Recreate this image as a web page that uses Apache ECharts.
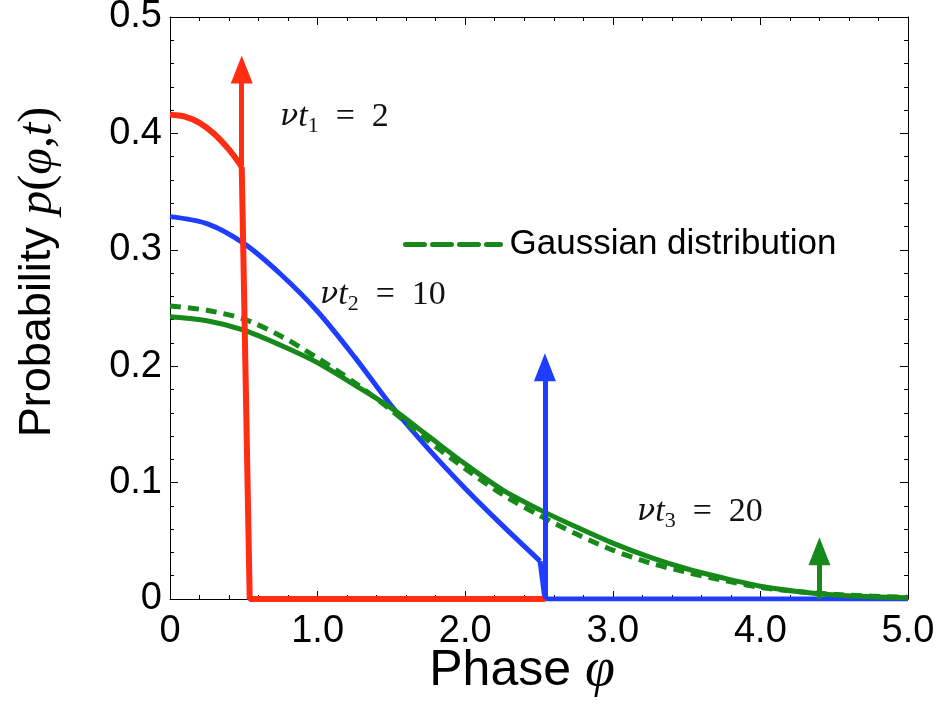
<!DOCTYPE html>
<html>
<head>
<meta charset="utf-8">
<script src="https://cdn.jsdelivr.net/npm/echarts@6/dist/echarts.min.js"></script>
<style>
  html, body { margin: 0; padding: 0; background: #fff; }
  #chart { width: 944px; height: 728px; }
</style>
</head>
<body>
<div id="chart"></div>
<script>
// curve for nu*t1 = 2 (red): smooth part, then the drop to zero
const redPhi = [0, 0.1, 0.2, 0.3, 0.4, 0.486]
const redP = [0.416, 0.4144, 0.409, 0.3995, 0.386, 0.3714]
const redDropPhi = [0.486, 0.54, 2.54]
const redDropP = [0.3714, 0, 0]

// curve for nu*t2 = 10 (blue)
const bluePhi = [0, 0.25, 0.5, 0.75, 1.0, 1.25, 1.5, 1.75, 2.0, 2.25, 2.507]
const blueP = [0.3285, 0.3225, 0.3055, 0.279, 0.247, 0.208, 0.166, 0.129, 0.095, 0.0635, 0.0326]
const blueDropPhi = [2.507, 2.54, 5.0]
const blueDropP = [0.0326, 0, 0]

// nu*t3 = 20 (green) and the gaussian, same phi grid
const phiGrid = [0, 0.25, 0.5, 0.75, 1.0, 1.25, 1.5, 1.75, 2.0, 2.25, 2.5, 2.75, 3.0, 3.25, 3.5, 3.75, 4.0, 4.25, 4.5, 4.75, 5.0]
const greenP = [0.2425, 0.239, 0.231, 0.218, 0.203, 0.184, 0.164, 0.140, 0.116, 0.094, 0.077, 0.062, 0.048, 0.036, 0.026, 0.018, 0.011, 0.0065, 0.0035, 0.002, 0.001]
const gaussP = [0.2517, 0.248, 0.2405, 0.226, 0.207, 0.186, 0.162, 0.136, 0.112, 0.090, 0.072, 0.056, 0.042, 0.031, 0.023, 0.016, 0.010, 0.0065, 0.004, 0.0025, 0.0015]

// delta peaks: phi position, start of shaft, centre of arrow head
const arrowPhi = [0.486, 2.54, 4.40]
const arrowFrom = [0.3714, 0, 0]
const arrowTo = [0.455, 0.199, 0.041]

const xTickLabels = ['0', '1.0', '2.0', '3.0', '4.0', '5.0']
const yTickLabels = ['0', '0.1', '0.2', '0.3', '0.4', '0.5']

const RED = '#ff2d12'
const BLUE = '#1f3dff'
const GREEN = '#17891a'

const sans = 'Liberation Sans, Helvetica, Arial, sans-serif'
const serif = 'Liberation Serif, Times New Roman, serif'

function pairs(xs, ys) {
  return xs.map((x, i) => [x, ys[i]])
}

function curve(name, xs, ys, color, width, z, smooth) {
  return {
    name: name, type: 'line', symbol: 'none', z: z,
    smooth: smooth,
    lineStyle: { color: color, width: width },
    data: pairs(xs, ys),
  }
}

function arrowSeries(i, color) {
  return {
    type: 'line',
    data: [],
    z: 6,
    markLine: {
      silent: true,
      animation: false,
      symbol: ['none', 'triangle'],
      symbolSize: [22, 28],
      label: { show: false },
      lineStyle: { color: color, width: 5, type: 'solid' },
      data: [[
        { coord: [arrowPhi[i], arrowFrom[i]] },
        { coord: [arrowPhi[i], arrowTo[i]] }
      ]]
    }
  }
}

const frameAxis = {
  axisLine: { show: true, onZero: false, lineStyle: { color: '#000', width: 1 } },
  axisTick: { show: true, inside: true, length: 8, lineStyle: { color: '#000', width: 1 } },
  minorTick: { show: true, splitNumber: 5, length: 4, lineStyle: { color: '#000', width: 1 } },
  splitLine: { show: false },
}

const chart = echarts.init(document.getElementById('chart'), null, { renderer: 'canvas' })

chart.setOption({
  animation: false,
  backgroundColor: '#fff',
  grid: { left: 170, right: 36, top: 17, bottom: 129, outerBoundsMode: 'none' },
  legend: {
    data: ['Gaussian distribution'],
    left: 398,
    top: 222,
    itemWidth: 95,
    itemHeight: 14,
    itemStyle: { opacity: 0 },
    lineStyle: { type: [19, 8], width: 5, cap: 'round' },
    textStyle: { fontSize: 35, fontFamily: sans, color: '#000', padding: [0, 0, 0, 4] },
  },
  xAxis: [
    {
      type: 'value', min: 0, max: 5, interval: 1, position: 'bottom',
      ...frameAxis,
      axisLabel: {
        margin: 14, fontSize: 38, fontFamily: sans, color: '#000',
        showMinLabel: true, showMaxLabel: true,
        formatter: (v) => xTickLabels[Math.round(v)]
      },
    },
    {
      type: 'value', min: 0, max: 5, interval: 1, position: 'top',
      ...frameAxis,
      axisLabel: { show: false },
    }
  ],
  yAxis: [
    {
      type: 'value', min: 0, max: 0.5, interval: 0.1, position: 'left',
      ...frameAxis,
      axisLabel: {
        margin: 8, fontSize: 38, fontFamily: sans, color: '#000',
        showMinLabel: true, showMaxLabel: true,
        formatter: (v) => yTickLabels[Math.round(v * 10)]
      },
    },
    {
      type: 'value', min: 0, max: 0.5, interval: 0.1, position: 'right',
      ...frameAxis,
      axisLabel: { show: false },
    }
  ],
  series: [
    curve('nu t2 = 10', bluePhi, blueP, BLUE, 5, 2, 0.3),
    curve('nu t2 = 10 drop', blueDropPhi, blueDropP, BLUE, 5, 2, false),
    curve('nu t3 = 20', phiGrid, greenP, GREEN, 5, 3, 0.3),
    {
      name: 'Gaussian distribution', type: 'line', symbol: 'none', z: 3,
      smooth: 0.3,
      itemStyle: { color: GREEN },
      lineStyle: { color: GREEN, width: 5, type: [11, 7] },
      data: pairs(phiGrid, gaussP),
    },
    curve('nu t1 = 2', redPhi, redP, RED, 6, 4, 0.3),
    curve('nu t1 = 2 drop', redDropPhi, redDropP, RED, 6, 4, false),
    arrowSeries(0, RED),
    arrowSeries(1, BLUE),
    arrowSeries(2, GREEN),
  ],
  graphic: [
    {
      type: 'text', x: 38, y: 272, rotation: Math.PI / 2,
      style: {
        text: '{s|Probability }{i|p}{n|(}{i|φ}{n|,}{i|t}{n|)}',
        align: 'center', verticalAlign: 'middle', textAlign: 'center', textVerticalAlign: 'middle',
        rich: {
          s: { fontSize: 45, fontFamily: sans, fill: '#000', color: '#000' },
          i: { fontSize: 48, fontFamily: serif, fontStyle: 'italic', fill: '#000', color: '#000' },
          n: { fontSize: 48, fontFamily: serif, fill: '#000', color: '#000' },
        }
      }
    },
    {
      type: 'text', x: 522, y: 671,
      style: {
        text: '{s|Phase }{i|φ}',
        align: 'center', verticalAlign: 'middle', textAlign: 'center', textVerticalAlign: 'middle',
        rich: {
          s: { fontSize: 50, fontFamily: sans, fill: '#000', color: '#000' },
          i: { fontSize: 54, fontFamily: serif, fontStyle: 'italic', fill: '#000', color: '#000' },
        }
      }
    },
    ...[
      { x: 280, y: 117, sub: '1', val: '\u2002=\u20022' },
      { x: 320, y: 295, sub: '2', val: '\u2002=\u200210' },
      { x: 637, y: 512, sub: '3', val: '\u2002=\u200220' },
    ].map((a) => ({
      type: 'text', x: a.x, y: a.y,
      style: {
        text: '{v|ν}{i|t}{b|' + a.sub + '}{n|' + a.val + '}',
        align: 'left', verticalAlign: 'middle', textAlign: 'left', textVerticalAlign: 'middle',
        rich: {
          v: { fontSize: 30, fontFamily: 'DejaVu Serif', fontStyle: 'italic', lineHeight: 40, fill: '#111', color: '#111' },
          i: { fontSize: 34, fontFamily: serif, fontStyle: 'italic', lineHeight: 40, fill: '#111', color: '#111' },
          b: { fontSize: 22, fontFamily: serif, lineHeight: 22, verticalAlign: 'bottom', fill: '#111', color: '#111' },
          n: { fontSize: 34, fontFamily: serif, lineHeight: 40, fill: '#111', color: '#111' },
        }
      }
    })),
  ],
})
</script>
</body>
</html>
